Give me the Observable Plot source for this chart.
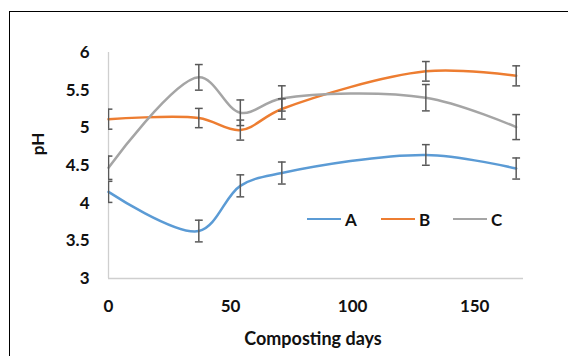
<!DOCTYPE html>
<html>
<head>
<meta charset="utf-8">
<script src="https://cdn.jsdelivr.net/npm/d3@7"></script>
<script src="https://cdn.jsdelivr.net/npm/@observablehq/plot@0.6"></script>
<style>
  html, body { margin: 0; padding: 0; background: #fff; }
  #wrap { position: relative; width: 568px; height: 356px; overflow: hidden; font-family: Lato, "Open Sans", sans-serif; }
  #frame { position: absolute; left: 9px; top: 11px; width: 700px; height: 500px; border: 1.5px solid #000; box-sizing: border-box; }
  #chart { position: absolute; left: 0; top: 0; }
  .t { position: absolute; font-weight: bold; color: #111; white-space: nowrap; }
  .leg { position: absolute; top: 209px; height: 20px; display: flex; align-items: center; font-weight: bold; font-size: 17px; color: #111; }
  .sw { display: inline-block; width: 34px; height: 2.7px; margin-right: 4px; }
</style>
</head>
<body>
<div id="wrap">
  <div id="frame"></div>
  <div id="chart"></div>
  <div class="t" id="xtitle" style="left:313px; top:327px; font-size:18px; transform:translateX(-50%);">Composting days</div>
  <div class="t" id="ytitle" style="left:36.5px; top:144px; font-size:17px; transform:translate(-50%,-50%) rotate(-90deg);">pH</div>
</div>
<script>
const days = [0, 37, 54, 71, 130, 167];
const seriesNames = ["A", "B", "C"];
const seriesColors = ["#5B9BD5", "#ED7D31", "#A5A5A5"];
const valuesA = [4.15, 3.63, 4.23, 4.40, 4.64, 4.46];
const valuesB = [5.115, 5.13, 4.97, 5.25, 5.75, 5.69];
const valuesC = [4.47, 5.67, 5.20, 5.39, 5.40, 5.01];
const errA = [0.14, 0.144, 0.146, 0.146, 0.137, 0.14];
const errB = [0.133, 0.128, 0.133, 0.135, 0.13, 0.133];
const errC = [0.155, 0.17, 0.17, 0.168, 0.175, 0.166];
const xTicks = [0, 50, 100, 150];
const yTicks = [3, 3.5, 4, 4.5, 5, 5.5, 6];

const vals = [valuesA, valuesB, valuesC];
const errs = [errA, errB, errC];
const rows = [];
seriesNames.forEach((s, i) => {
  days.forEach((d, j) => {
    rows.push({series: s, day: d, ph: vals[i][j], lo: vals[i][j] - errs[i][j], hi: vals[i][j] + errs[i][j]});
  });
});
const caps = rows.flatMap(r => [{day: r.day, v: r.lo}, {day: r.day, v: r.hi}]);

const capSymbol = {
  draw(context, size) {
    const r = Math.sqrt(size / Math.PI);
    context.moveTo(-r, 0);
    context.lineTo(r, 0);
  }
};

const chart = Plot.plot({
  width: 568,
  height: 356,
  marginLeft: 108,
  marginRight: 45,
  marginTop: 52,
  marginBottom: 78,
  style: {fontFamily: "Lato, 'Open Sans', sans-serif", fontWeight: "bold", color: "#111", background: "transparent"},
  x: {domain: [0, 170], label: null},
  y: {domain: [3, 6], label: null},
  color: {domain: seriesNames, range: seriesColors},
  marks: [
    Plot.axisX(xTicks, {tickSize: 0, tickPadding: 21, fontSize: 17, fontWeight: "bold", fill: "#111", tickFormat: d => String(d), label: null}),
    Plot.axisY(yTicks, {tickSize: 0, tickPadding: 19, fontSize: 17, fontWeight: "bold", fill: "#111", tickFormat: d => String(d), label: null}),
    Plot.ruleY([3], {stroke: "#cfcfcf", strokeWidth: 1.3}),
    Plot.ruleX([0], {stroke: "#cfcfcf", strokeWidth: 1.3}),
    Plot.line(rows, {x: "day", y: "ph", z: "series", stroke: "series", curve: "catmull-rom", strokeWidth: 2.5}),
    Plot.ruleX(rows, {x: "day", y1: "lo", y2: "hi", stroke: "#595959", strokeWidth: 1.5, clip: true}),
    Plot.dot(caps, {x: "day", y: "v", symbol: capSymbol, r: 3.9, stroke: "#595959", strokeWidth: 1.5, fill: "none", clip: true})
  ]
});
document.getElementById("chart").appendChild(chart);

const legendLeft = [307, 381, 453];
const wrap = document.getElementById("wrap");
seriesNames.forEach((s, i) => {
  const item = document.createElement("div");
  item.className = "leg";
  item.style.left = legendLeft[i] + "px";
  item.innerHTML = `<span class="sw" style="background:${seriesColors[i]}"></span><span>${s}</span>`;
  wrap.appendChild(item);
});
</script>
</body>
</html>
